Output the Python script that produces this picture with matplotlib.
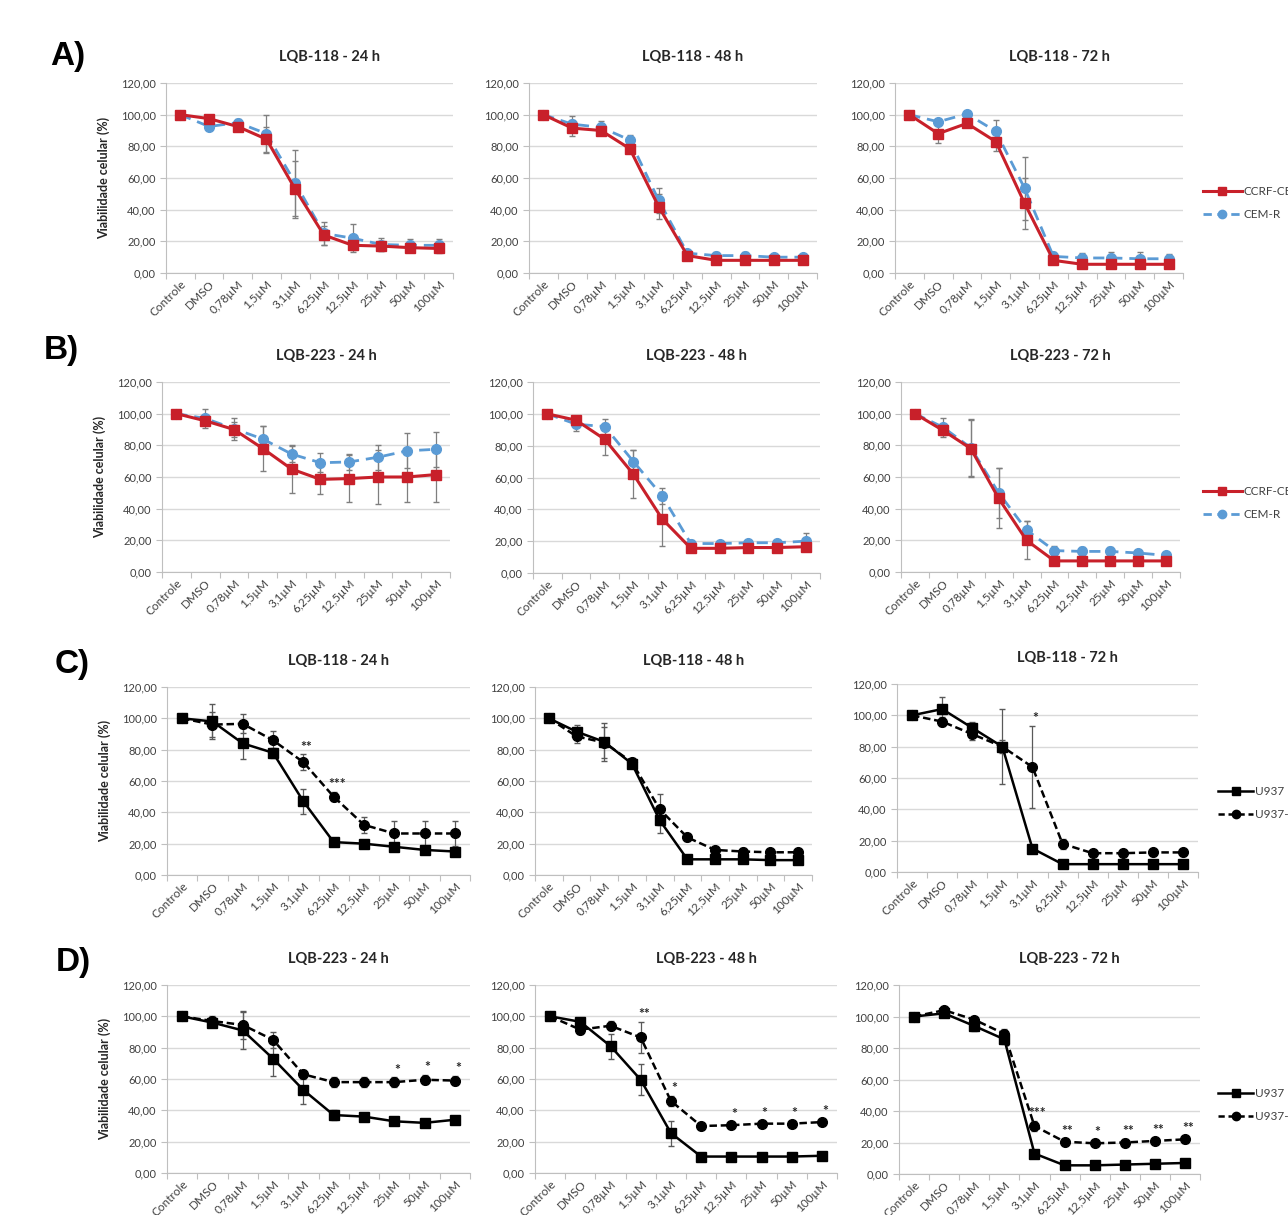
import matplotlib
matplotlib.use("Agg")
import matplotlib.pyplot as plt
from matplotlib.lines import Line2D
from matplotlib.ticker import FuncFormatter, FixedLocator

plt.rcParams['font.family'] = ['Lato', 'DejaVu Sans']

categories = ['Controle', 'DMSO', '0,78µM', '1,5µM', '3,1µM', '6,25µM',
              '12,5µM', '25µM', '50µM', '100µM']

# ---- A) LQB-118, CCRF-CEM / CEM-R
a1_ccrf = [100, 97.5, 92.5, 84.5, 53, 24, 17.5, 17, 16, 15.5]
a1_ccrf_err = [0, 1.5, 2, 8, 18, 6, 3, 3, 3, 3]
a1_cemr = [100, 92.5, 95, 88, 57, 25, 22, 18, 17.5, 17.5]
a1_cemr_err = [0, 2, 2, 12, 21, 7, 9, 4, 4, 4]

a2_ccrf = [100, 91.5, 90, 78.5, 42, 11, 8, 8, 8, 8]
a2_ccrf_err = [0, 5, 3, 3, 8, 2, 2, 2, 2, 2]
a2_cemr = [100, 94, 92, 84, 46, 12.5, 11, 11, 10, 10]
a2_cemr_err = [0, 5, 4, 3, 8, 2, 2, 2, 2, 2]

a3_ccrf = [100, 88, 94.5, 83, 44, 8, 5.5, 5.5, 5.5, 5.5]
a3_ccrf_err = [0, 6, 2, 6, 16, 2, 2, 2, 2, 2]
a3_cemr = [100, 95.5, 100.5, 89.5, 53.5, 10.5, 9.5, 9.5, 9, 9]
a3_cemr_err = [0, 2, 2, 7, 20, 3, 3, 4, 4, 3]

# ---- B) LQB-223, CCRF-CEM / CEM-R
b1_ccrf = [100, 95.5, 90, 78, 65, 58.5, 59, 60, 60, 61.5]
b1_ccrf_err = [0, 2, 5, 14, 15, 9, 15, 17, 16, 17]
b1_cemr = [100, 97, 90.5, 84, 74.5, 69, 69.5, 72.5, 76.5, 77.5]
b1_cemr_err = [0, 6, 7, 8, 5, 6, 5, 8, 11, 11]

b2_ccrf = [100, 96, 84, 62, 34, 15.5, 15.5, 16, 16, 16.5]
b2_ccrf_err = [0, 2, 10, 15, 17, 1.5, 1.5, 1.5, 1.5, 1.5]
b2_cemr = [100, 93.5, 92, 70, 48.5, 18.5, 18.5, 19, 19, 20]
b2_cemr_err = [0, 4, 5, 7, 5, 2, 1.5, 1.5, 2, 5]

b3_ccrf = [100, 89.5, 78, 46.5, 20, 7, 7, 7, 7, 7]
b3_ccrf_err = [0, 3, 18, 19, 12, 1.5, 1.5, 1.5, 1.5, 1.5]
b3_cemr = [100, 91.5, 78.5, 50, 26.5, 13.5, 13, 13, 12, 10.5]
b3_cemr_err = [0, 6, 18, 16, 6, 3, 3, 3, 2, 2]

# ---- C) LQB-118, U937 / U937-R
c1_u937 = [100, 98, 84, 78, 47, 21, 20, 18, 16, 15]
c1_u937_err = [0, 11, 10, 3, 8, 2, 2, 2, 2, 2]
c1_u937r = [100, 96, 96.5, 86, 72, 50, 32, 26.5, 26.5, 26.5]
c1_u937r_err = [0, 8, 6, 6, 5, 3, 5, 8, 8, 8]
c1_stars = ['', '', '', '', '**', '***', '', '', '', '']

c2_u937 = [100, 91.5, 85, 71, 35, 10, 10, 10, 9.5, 9.5]
c2_u937_err = [0, 4, 12, 3, 8, 1, 1, 1, 1, 1]
c2_u937r = [100, 88.5, 84.5, 72, 42, 24, 16, 15, 14.5, 14.5]
c2_u937r_err = [0, 4, 10, 3, 10, 2, 2, 2, 2, 2]
c2_stars = [''] * 10

c3_u937 = [100, 104, 92, 80, 15, 5, 5, 5, 5, 5]
c3_u937_err = [0, 8, 4, 24, 2, 1, 1, 1, 1, 1]
c3_u937r = [100, 96, 88, 80, 67, 18, 12, 12, 12.5, 12.5]
c3_u937r_err = [0, 3, 4, 4, 26, 3, 2, 2, 2, 2]
c3_stars = ['', '', '', '', '*', '', '', '', '', '']

# ---- D) LQB-223, U937 / U937-R
d1_u937 = [100, 96, 91, 73, 53, 37, 36, 33, 32, 34]
d1_u937_err = [0, 3, 12, 11, 9, 3, 2, 2, 2, 2]
d1_u937r = [100, 97, 94.5, 85, 63, 58, 58, 58, 59.5, 59]
d1_u937r_err = [0, 3, 9, 5, 3, 3, 3, 3, 3, 3]
d1_stars = ['', '', '', '', '', '', '', '*', '*', '*']

d2_u937 = [100, 96.5, 81, 59.5, 25.5, 10.5, 10.5, 10.5, 10.5, 11]
d2_u937_err = [0, 2, 8, 10, 8, 1, 1, 1, 1, 1]
d2_u937r = [100, 91.5, 94, 86.5, 46, 30, 30.5, 31.5, 31.5, 32.5]
d2_u937r_err = [0, 3, 3, 10, 3, 2, 2, 2, 2, 2]
d2_stars = ['', '', '', '**', '*', '', '*', '*', '*', '*']

d3_u937 = [100, 102, 94, 85.5, 13, 5.5, 5.5, 6, 6.5, 7]
d3_u937_err = [0, 2, 3, 3, 2, 1, 1, 1, 1, 1]
d3_u937r = [100, 104, 98, 89, 30.5, 20.5, 19.5, 20, 21, 22]
d3_u937r_err = [0, 2, 2, 3, 3, 2, 2, 2, 2, 2]
d3_stars = ['', '', '', '', '***', '**', '*', '**', '**', '**']

RED = '#C8202A'
BLUE = '#5B9BD5'
GRID = '#D9D9D9'
W, H = 1288, 1215

fig = plt.figure(figsize=(W / 100, H / 100), dpi=100)


def add_ax(l, r, t, b):
    return fig.add_axes([l / W, 1 - b / H, (r - l) / W, (b - t) / H])


def style(ax, title, ylabel):
    x = list(range(len(categories)))
    ax.set_xlim(-0.5, len(categories) - 0.5)
    ax.set_ylim(0, 120)
    ax.yaxis.set_major_locator(FixedLocator(range(0, 121, 20)))
    ax.yaxis.set_major_formatter(FuncFormatter(lambda v, p: f"{v:.2f}".replace('.', ',')))
    ax.grid(axis='y', color=GRID, lw=1)
    ax.set_axisbelow(True)
    for s in ['top', 'right']:
        ax.spines[s].set_visible(False)
    for s in ['left', 'bottom']:
        ax.spines[s].set_color('#BFBFBF')
    ax.set_xticks([i + 0.5 for i in range(-1, len(categories))], minor=False)
    ax.set_xticklabels([])
    ax.set_xticks(x, minor=True)
    ax.set_xticklabels(categories, minor=True, rotation=45, ha='right',
                       rotation_mode='anchor', fontsize=8.5, color='#404040')
    ax.tick_params(axis='x', which='minor', length=0, pad=4)
    ax.tick_params(axis='x', which='major', length=4, color='#BFBFBF', direction='out')
    ax.tick_params(axis='y', length=4, color='#BFBFBF', labelsize=8, labelcolor='#404040')
    w = ax.get_position().width * W
    h = ax.get_position().height * H
    ax.text(0.5 + 20 / w, 1 + 26 / h, title, transform=ax.transAxes, ha='center',
            va='center', fontsize=10.5, fontweight='bold', color='#262626')
    if ylabel:
        ax.text(-62 / w, 0.5, 'Viabilidade celular (%)', transform=ax.transAxes,
                rotation=90, ha='center', va='center', fontsize=9,
                fontweight='bold', color='#262626')


def colour_panel(ax, ccrf, ccrf_err, cemr, cemr_err):
    x = range(len(categories))
    ax.errorbar(x, cemr, yerr=cemr_err, fmt='none', ecolor='#7F7F7F', elinewidth=0.9,
                capsize=2, zorder=2)
    ax.errorbar(x, ccrf, yerr=ccrf_err, fmt='none', ecolor='#7F7F7F', elinewidth=0.9,
                capsize=2, zorder=2)
    ax.plot(x, cemr, color=BLUE, ls=(0, (4, 2.5)), lw=2, marker='o', ms=7, zorder=3)
    ax.plot(x, ccrf, color=RED, lw=2.2, marker='s', ms=7, zorder=4)


def black_panel(ax, u, u_err, r, r_err, stars):
    x = range(len(categories))
    ax.errorbar(x, u, yerr=u_err, fmt='none', ecolor='#595959', elinewidth=0.9,
                capsize=2, zorder=2)
    ax.errorbar(x, r, yerr=r_err, fmt='none', ecolor='#595959', elinewidth=0.9,
                capsize=2, zorder=2)
    ax.plot(x, r, color='black', ls=(0, (3, 1.5)), lw=1.8, marker='o', ms=7, zorder=3)
    ax.plot(x, u, color='black', lw=1.8, marker='s', ms=7, zorder=4)
    for i, s in enumerate(stars):
        if s:
            ax.text(i + 0.1, r[i] + r_err[i] + 5, s, ha='center', va='center',
                    fontsize=10, fontweight='bold', color='#262626')


# panel geometry in pixels (left, right, top, bottom)
rowA = [(166, 453, 83, 273), (529, 817, 83, 273), (895, 1183, 83, 273)]
rowB = [(162, 450, 382, 572), (533, 820, 382, 573), (901, 1180, 382, 572)]
rowC = [(167, 470, 687, 875), (535, 812, 687, 875), (897, 1198, 684, 872)]
rowD = [(167, 470, 985, 1173), (535, 837, 985, 1173), (899, 1200, 985, 1174)]

dataA = [(a1_ccrf, a1_ccrf_err, a1_cemr, a1_cemr_err),
         (a2_ccrf, a2_ccrf_err, a2_cemr, a2_cemr_err),
         (a3_ccrf, a3_ccrf_err, a3_cemr, a3_cemr_err)]
dataB = [(b1_ccrf, b1_ccrf_err, b1_cemr, b1_cemr_err),
         (b2_ccrf, b2_ccrf_err, b2_cemr, b2_cemr_err),
         (b3_ccrf, b3_ccrf_err, b3_cemr, b3_cemr_err)]
dataC = [(c1_u937, c1_u937_err, c1_u937r, c1_u937r_err, c1_stars),
         (c2_u937, c2_u937_err, c2_u937r, c2_u937r_err, c2_stars),
         (c3_u937, c3_u937_err, c3_u937r, c3_u937r_err, c3_stars)]
dataD = [(d1_u937, d1_u937_err, d1_u937r, d1_u937r_err, d1_stars),
         (d2_u937, d2_u937_err, d2_u937r, d2_u937r_err, d2_stars),
         (d3_u937, d3_u937_err, d3_u937r, d3_u937r_err, d3_stars)]
times = ['24 h', '48 h', '72 h']

for i in range(3):
    ax = add_ax(*rowA[i])
    colour_panel(ax, *dataA[i])
    style(ax, f'LQB-118 - {times[i]}', i == 0)
    ax = add_ax(*rowB[i])
    colour_panel(ax, *dataB[i])
    style(ax, f'LQB-223 - {times[i]}', i == 0)
    ax = add_ax(*rowC[i])
    black_panel(ax, *dataC[i])
    style(ax, f'LQB-118 - {times[i]}', i == 0)
    ax = add_ax(*rowD[i])
    black_panel(ax, *dataD[i])
    style(ax, f'LQB-223 - {times[i]}', i == 0)

# panel letters
for letter, (x, y) in zip(['A)', 'B)', 'C)', 'D)'], [(68, 57), (61, 350), (72, 665), (73, 962)]):
    fig.text(x / W, 1 - y / H, letter, ha='center', va='center', fontsize=24,
             fontweight='bold', family='Liberation Sans')

# legends (cut by the right edge as in the source)
col_handles = [Line2D([], [], color=RED, lw=2.2, marker='s', ms=6),
               Line2D([], [], color=BLUE, lw=2, ls=(0, (3, 2)), marker='o', ms=6)]
blk_handles = [Line2D([], [], color='black', lw=1.8, marker='s', ms=6),
               Line2D([], [], color='black', lw=1.8, ls=(0, (2.5, 1.5)), marker='o', ms=6)]
for handles, labels, x, y, hl in [(col_handles, ['CCRF-CEM', 'CEM-R'], 1203, 203, 3.3),
                                  (col_handles, ['CCRF-CEM', 'CEM-R'], 1203, 503, 3.3),
                                  (blk_handles, ['U937', 'U937-R'], 1218, 803, 3.0),
                                  (blk_handles, ['U937', 'U937-R'], 1218, 1105, 3.0)]:
    fig.legend(handles, labels, loc='center left', bbox_to_anchor=(x / W, 1 - y / H),
               frameon=False, fontsize=8.5, handlelength=hl, handletextpad=0.15,
               labelspacing=1.0, borderaxespad=0, borderpad=0, labelcolor='#404040')

fig.savefig('out.png', dpi=100)
